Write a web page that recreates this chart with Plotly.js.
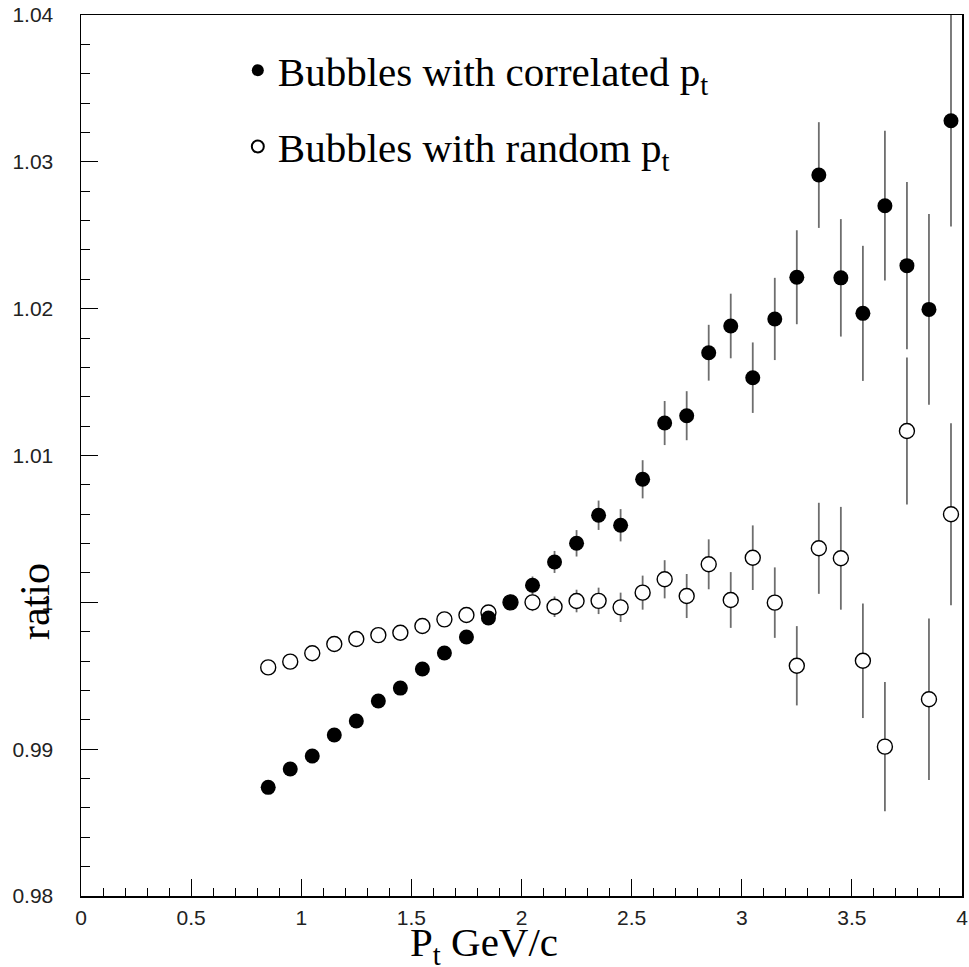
<!DOCTYPE html>
<html>
<head>
<meta charset="utf-8">
<script src="https://cdn.plot.ly/plotly-3.0.1.min.js"></script>
<style>html,body{margin:0;padding:0;background:#fff;}#chart{width:969px;height:967px;}</style>
</head>
<body>
<div id="chart"></div>
<script>
// Pt bin centres (GeV/c)
const pt = [0.85,0.95,1.05,1.15,1.25,1.35,1.45,1.55,1.65,1.75,1.85,1.95,2.05,2.15,2.25,2.35,
            2.45,2.55,2.65,2.75,2.85,2.95,3.05,3.15,3.25,3.35,3.45,3.55,3.65,3.75,3.85,3.95];
// Bubbles with correlated pt
const ratioCorr = [0.9874,0.98865,0.98953,0.99096,0.99192,0.99328,0.99416,0.99546,0.99655,0.99764,0.99893,1.0000,1.00116,
                   1.00275,1.00402,1.00593,1.00525,1.00838,1.01221,1.01271,1.0170,1.01882,1.0153,1.0193,1.02214,1.0291,
                   1.0221,1.01968,1.02701,1.02293,1.01995,1.0328];
const errCorr = [0.0002,0.0002,0.0002,0.00022,0.00024,0.00026,0.00028,0.0003,0.00033,0.00036,0.0004,0.00045,0.0006,
                 0.00075,0.0009,0.001,0.0011,0.0013,0.0015,0.00167,0.0019,0.0022,0.0024,0.0028,0.0032,0.0036,
                 0.0040,0.0046,0.0051,0.0057,0.0065,0.0072];
// Bubbles with random pt
const ratioRand = [0.99557,0.99596,0.99653,0.99716,0.9975,0.99777,0.99793,0.99839,0.99884,0.99914,0.99931,1.0000,1.0000,
                   0.9997,1.00009,1.0001,0.99966,1.00066,1.00157,1.00043,1.00259,1.00016,1.00304,0.99998,0.99568,1.00368,
                   1.0030,0.99602,0.99017,1.01167,0.9934,1.0060];
const errRand = [0.0001,0.0001,0.00012,0.00013,0.00015,0.00017,0.0002,0.00022,0.00025,0.0003,0.00035,0.0004,0.0006,
                 0.0007,0.00077,0.0009,0.001,0.00116,0.0013,0.0015,0.0017,0.0019,0.0022,0.0024,0.0027,0.0031,
                 0.0035,0.0039,0.0044,0.005,0.0055,0.0062];
const labelCorr = "Bubbles with correlated p<sub>t</sub>";
const labelRand = "Bubbles with random p<sub>t</sub>";

const serif = 'Liberation Serif, Times New Roman, serif';
const errStyle = {color:'#6e6e6e', thickness:1.8, width:0};
const traces = [
  {x:pt, y:ratioRand, type:'scatter', mode:'markers', name:labelRand, legendrank:2, legendgroup:'b',
   marker:{symbol:'circle', size:15, color:'#ffffff', line:{color:'#000', width:1.4}},
   error_y:Object.assign({type:'data', array:errRand, visible:true}, errStyle)},
  {x:pt, y:ratioCorr, type:'scatter', mode:'markers', name:labelCorr, legendrank:1, legendgroup:'a',
   marker:{symbol:'circle', size:15, color:'#000', line:{color:'#000', width:0}},
   error_y:Object.assign({type:'data', array:errCorr, visible:true}, errStyle)}
];

const tickFont = {family:'Liberation Sans, Arial, sans-serif', size:21, color:'#222'};
const layout = {
  width:969, height:967,
  margin:{l:81, r:7, t:15, b:71},
  paper_bgcolor:'#fff', plot_bgcolor:'#fff',
  showlegend:true,
  legend:{x:0.178, y:0.975, xanchor:'left', yanchor:'top', bgcolor:'rgba(0,0,0,0)',
          font:{family:serif, size:41, color:'#000'},
          tracegroupgap:20, itemsizing:'constant'},
  xaxis:{range:[0,4], autorange:false, dtick:0.5, tick0:0, ticks:'inside', ticklen:17, tickwidth:1, tickcolor:'#000',
         minor:{dtick:0.1, ticks:'inside', ticklen:8, tickwidth:1, tickcolor:'#000', showgrid:false},
         showgrid:false, zeroline:false, showline:true, mirror:true, linecolor:'#000', linewidth:1.5,
         tickfont:tickFont, ticklabelstandoff:2},
  yaxis:{range:[0.98,1.04], autorange:false, dtick:0.01, tick0:0.98, ticks:'inside', ticklen:17, tickwidth:1, tickcolor:'#000',
         minor:{dtick:0.002, ticks:'inside', ticklen:9, tickwidth:1, tickcolor:'#000', showgrid:false},
         showgrid:false, zeroline:false, showline:true, mirror:true, linecolor:'#000', linewidth:1.5,
         tickfont:tickFont, ticklabelstandoff:22},
  annotations:[
    {text:'P<sub>t</sub> GeV/c', xref:'paper', yref:'paper', x:0.457, y:-0.024, xanchor:'center', yanchor:'top',
     showarrow:false, font:{family:serif, size:41, color:'#000'}},
    {text:'ratio', xref:'paper', yref:'paper', x:-0.052, y:0.334, xanchor:'center', yanchor:'middle', textangle:-90,
     showarrow:false, font:{family:serif, size:42, color:'#000'}}
  ]
};
Plotly.newPlot('chart', traces, layout, {displayModeBar:false, staticPlot:true});
</script>
</body>
</html>
